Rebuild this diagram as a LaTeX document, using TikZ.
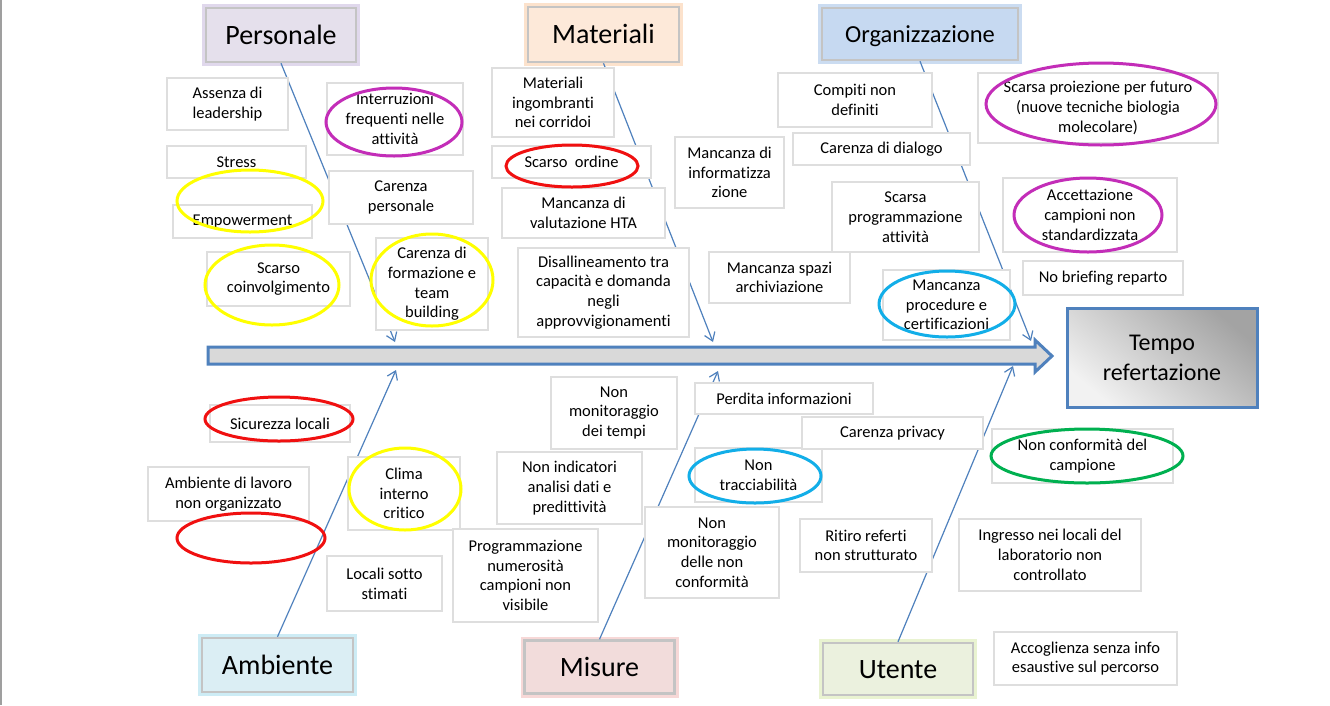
\documentclass[tikz,border=0pt]{standalone}
\usepackage{fontspec}
\setmainfont{Carlito}[Ligatures=NoCommon]
\usetikzlibrary{arrows.meta,shapes.geometric}
\definecolor{bone}{HTML}{4F81BD}
\definecolor{boxgray}{HTML}{DEDEDE}
\definecolor{catgray}{HTML}{C4C4C4}
\definecolor{yel}{HTML}{FFFF00}
\definecolor{redr}{HTML}{F01010}
\definecolor{purp}{HTML}{C32DB8}
\definecolor{cyanr}{HTML}{12AEE8}
\definecolor{grn}{HTML}{00B050}
\definecolor{fPers}{HTML}{E5E0EC}\definecolor{gPers}{HTML}{BBA9D6}
\definecolor{fMat}{HTML}{FDE9D9}\definecolor{gMat}{HTML}{F9C08F}
\definecolor{fOrg}{HTML}{C6D9F1}\definecolor{gOrg}{HTML}{8DB3E2}
\definecolor{fAmb}{HTML}{DBEEF4}\definecolor{gAmb}{HTML}{92D5EA}
\definecolor{fMis}{HTML}{F2DCDB}\definecolor{gMis}{HTML}{EFA9A8}
\definecolor{fUte}{HTML}{EBF1DE}\definecolor{gUte}{HTML}{CFE59A}
\begin{document}
\begin{tikzpicture}[x=1pt,y=-1pt,
  box/.style={draw=boxgray, line width=2.5pt, fill=white, align=center, inner sep=0pt, text=black,
    font=\fontsize{16.5}{19.7}\selectfont},
  ring/.style={ellipse, draw=#1, line width=3pt, inner sep=0pt},
  cat/.style 2 args={draw=catgray, line width=2.5pt, fill=#1, inner sep=0pt,
    preaction={draw=#2, line width=8pt, draw opacity=0.45},
    text height=18pt, text depth=0pt,
    font=\fontsize{28}{34}\selectfont},
  bonel/.style={draw=bone, line width=1.2pt, -{Straight Barb[length=8pt,width=11pt,line width=1.2pt]}}
]
\useasboundingbox (0,0) rectangle (1330,705);
\fill[white] (0,0) rectangle (1330,705);
\draw[gray!75, line width=2pt] (1,0) -- (1,705);

% category boxes
\node[cat={fPers}{gPers}, minimum width=150pt, minimum height=54pt] (pers) at (281,35) {Personale};
\node[cat={fMat}{gMat}, minimum width=151pt, minimum height=55pt] (mat) at (603.5,34.5) {Materiali};
\node[cat={fOrg}{gOrg}, minimum width=196pt, minimum height=52pt, font=\fontsize{24.5}{30}\selectfont, text height=16pt] (org) at (920,34) {Organizzazione};
\node[cat={fAmb}{gAmb}, minimum width=151pt, minimum height=54pt] (amb) at (277.5,665) {Ambiente};
\node[cat={fMis}{gMis}, minimum width=150pt, minimum height=53pt] (mis) at (599.5,667) {Misure};
\node[cat={fUte}{gUte}, minimum width=150pt, minimum height=52pt] (ute) at (898,669) {Utente};

% tips of the bones
\coordinate (tP) at (395,342);
\coordinate (tM) at (713,342);
\coordinate (tO) at (1031,341);
\coordinate (tA) at (396,370);
\coordinate (tS) at (718,371);
\coordinate (tU) at (1013,366);

\draw[bonel] (pers.south) -- (tP);
\draw[bonel] (mat.south) -- (tM);
\draw[bonel] (org.south) -- (tO);
\draw[bonel] (amb.north) -- (tA);
\draw[bonel] (mis.north) -- (tS);
\draw[bonel] (ute.north) -- (tU);

% main arrow
\draw[fill=gray!30, draw=bone, line width=3pt, line join=miter]
  (208,347) -- (1035,347) -- (1035,340) -- (1052,356) -- (1035,372) -- (1035,364) -- (208,364) -- cycle;

% effect box
\node[draw=bone, line width=3pt, minimum width=190pt, minimum height=99pt, inner sep=0pt,
  top color=black!36, bottom color=black!5, shading angle=-40, align=center,
  font=\fontsize{24}{30}\selectfont] (eff) at (1162,357.5) {Tempo\\refertazione};

% text boxes - top
\node[box, minimum width=121pt, minimum height=52pt] (b1) at (227.5,104) {Assenza di\\leadership};
\node[box, minimum width=139pt, minimum height=32pt] (b2) at (236.5,162) {Stress};
\node[box, minimum width=139pt, minimum height=33pt] (b3) at (242.5,221.5) {Empowerment};
\node[box, minimum width=143pt, minimum height=54pt] (b4) at (278.5,279) {Scarso\\coinvolgimento};
\node[box, minimum width=136pt, minimum height=72pt] (b5) at (395,119) {Interruzioni\\frequenti nelle\\attività};
\node[box, minimum width=144pt, minimum height=53pt] (b6) at (401,197.5) {Carenza\\personale};
\node[box, minimum width=112pt, minimum height=92pt] (b7) at (432,284) {Carenza di\\formazione e\\team\\building};
\node[box, minimum width=122pt, minimum height=69pt] (b8) at (553,102.5) {Materiali\\ingombranti\\nei corridoi};
\node[box, minimum width=159pt, minimum height=32pt] (b9) at (571.5,162) {Scarso\ \ ordine};
\node[box, minimum width=163pt, minimum height=50pt] (b10) at (583.5,213) {Mancanza di\\valutazione HTA};
\node[box, minimum width=171pt, minimum height=89pt] (b11) at (603.5,292.5) {Disallineamento tra\\capacità e domanda\\negli\\approvvigionamenti};
\node[box, minimum width=109pt, minimum height=71pt] (b12) at (729.5,172.5) {Mancanza di\\informatizza\\zione};
\node[box, minimum width=141pt, minimum height=51pt] (b13) at (779.5,277.5) {Mancanza spazi\\archiviazione};
\node[box, minimum width=154pt, minimum height=54pt] (b14) at (855,100) {Compiti non\\definiti};
\node[box, minimum width=177pt, minimum height=32pt] (b15) at (881.5,149) {Carenza di dialogo};
\node[box, minimum width=147pt, minimum height=70pt] (b16) at (905.5,217) {Scarsa\\programmazione\\attività};
\node[box, minimum width=127pt, minimum height=70pt] (b17) at (946.5,305) {Mancanza\\procedure e\\certificazioni};
\node[box, minimum width=240pt, minimum height=70pt] (b18) at (1098,108) {Scarsa proiezione per futuro\\(nuove tecniche biologia\\molecolare)};
\node[box, minimum width=174pt, minimum height=74pt] (b19) at (1090,215) {Accettazione\\campioni non\\standardizzata};
\node[box, minimum width=160pt, minimum height=34pt] (b20) at (1103,278) {No briefing reparto};

% text boxes - bottom
\node[box, minimum width=140pt, minimum height=37pt] (b21) at (280,423.5) {Sicurezza locali};
\node[box, minimum width=161pt, minimum height=54pt] (b22) at (228.5,494) {Ambiente di lavoro\\non organizzato};
\node[box, minimum width=112pt, minimum height=73pt] (b23) at (404,493.5) {Clima\\interno\\critico};
\node[box, minimum width=115pt, minimum height=55pt] (b24) at (384.5,583.5) {Locali sotto\\stimati};
\node[box, minimum width=126pt, minimum height=72pt] (b25) at (614,413) {Non\\monitoraggio\\dei tempi};
\node[box, minimum width=145pt, minimum height=72pt] (b26) at (569.5,488) {Non indicatori\\analisi dati e\\predittività};
\node[box, minimum width=145pt, minimum height=93pt] (b27) at (525.5,575.5) {Programmazione\\numerosità\\campioni non\\visibile};
\node[box, minimum width=134pt, minimum height=91pt] (b28) at (712,552.5) {Non\\monitoraggio\\delle non\\conformità};
\node[box, minimum width=178pt, minimum height=31pt] (b29) at (784,398.5) {Perdita informazioni};
\node[box, minimum width=127pt, minimum height=54pt] (b30) at (758.5,475) {Non\\tracciabilità};
\node[box, minimum width=181pt, minimum height=32pt] (b31) at (892.5,433) {Carenza privacy};
\node[box, minimum width=181pt, minimum height=54pt] (b32) at (1082.5,456) {Non conformità del\\campione};
\node[box, minimum width=132pt, minimum height=53pt] (b33) at (866,545.5) {Ritiro referti\\non strutturato};
\node[box, minimum width=182pt, minimum height=72pt] (b34) at (1050,555) {Ingresso nei locali del\\laboratorio non\\controllato};
\node[box, minimum width=183pt, minimum height=53pt] (b35) at (1085.5,658.5) {Accoglienza senza info\\esaustive sul percorso};

% highlight ellipses
\node[ring=yel, minimum width=146pt, minimum height=62pt] (e1) at (250,201) {};
\node[ring=yel, minimum width=134pt, minimum height=80pt] (e2) at (272,285) {};
\node[ring=purp, minimum width=136pt, minimum height=68pt] (e3) at (394,122) {};
\node[ring=yel, minimum width=122pt, minimum height=92pt] (e4) at (432,280) {};
\node[ring=redr, minimum width=132pt, minimum height=42pt] (e5) at (572,166) {};
\node[ring=cyanr, minimum width=136pt, minimum height=66pt] (e6) at (947,304) {};
\node[ring=purp, minimum width=230pt, minimum height=82pt] (e7) at (1101,104) {};
\node[ring=purp, minimum width=148pt, minimum height=74pt] (e8) at (1088,215) {};
\node[ring=redr, minimum width=148pt, minimum height=44pt] (e9) at (279,419) {};
\node[ring=redr, minimum width=148pt, minimum height=50pt] (e10) at (251,538) {};
\node[ring=yel, minimum width=112pt, minimum height=82pt] (e11) at (405,489) {};
\node[ring=cyanr, minimum width=132pt, minimum height=54pt] (e12) at (755,476) {};
\node[ring=grn, minimum width=192pt, minimum height=54pt] (e13) at (1087,456) {};
\end{tikzpicture}
\end{document}
